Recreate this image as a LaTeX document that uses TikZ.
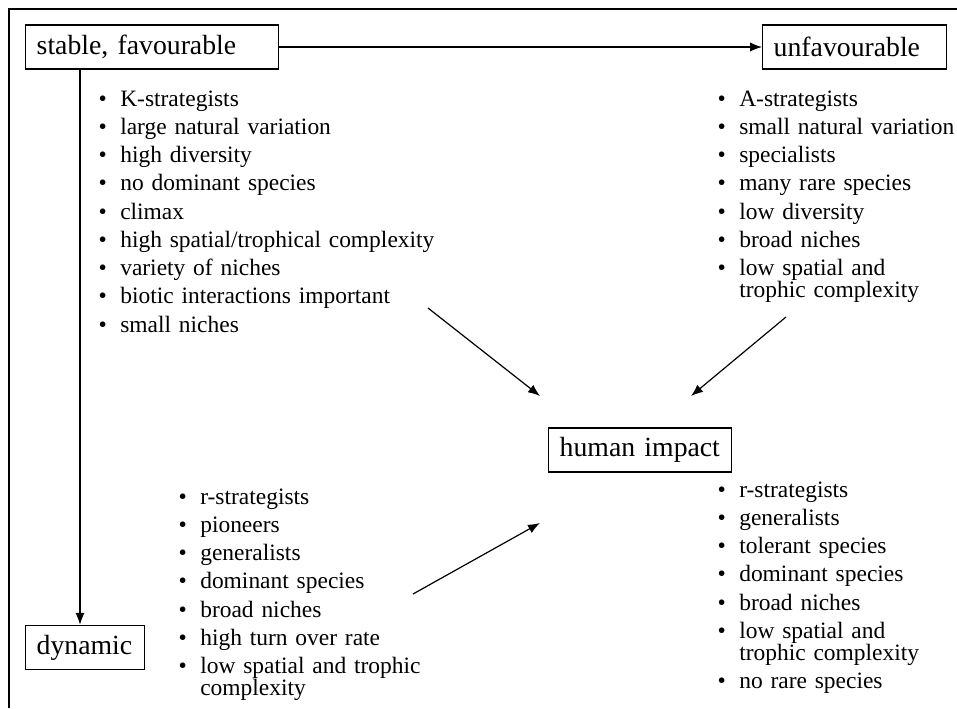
\documentclass[tikz,border=0pt]{standalone}
\usepackage{fontspec}
\setmainfont{Liberation Serif}
\usepackage{enumitem}
\usetikzlibrary{arrows.meta, positioning}

\setlist[itemize]{label=\textbullet, leftmargin=12.75pt, labelsep=10pt, topsep=0pt, partopsep=0pt, parsep=0pt, itemsep=4.7pt}

\tikzset{
    stagebox/.style={draw, line width=1.1pt, inner xsep=8.25pt, inner ysep=0pt, minimum height=33pt, anchor=west, align=left, font=\fontsize{20.8}{24}\selectfont},
    traitlist/.style={anchor=base west, inner sep=0pt, text width=300pt, font=\fontsize{17.6}{16.5}\selectfont},
    link/.style={-{Latex[length=9pt,width=7pt]}, line width=0.9pt},
}

\begin{document}
\begin{tikzpicture}[x=0.75pt, y=-0.75pt]

\useasboundingbox (0,0) rectangle (957,708);

% Frame (open to the right and bottom)
\draw[line width=1.1pt] (9,708) -- (9,9) -- (957,9);

% Stages
\node[stagebox, text width=173.25pt] (stable) at (25,47) {stable, favourable};
\node[stagebox, text width=121.5pt] (unfav) at (762,47) {unfavourable};
\node[stagebox, text width=120.75pt] (human) at (548,450) {human impact};
\node[stagebox, text width=72.75pt] (dynamic) at (25,647.5) {dynamic};

% Traits
\node[traitlist] (stablelist) at (103,84) {
    \begin{itemize}
        \item K-strategists
        \item large natural variation
        \item high diversity
        \item no dominant species
        \item climax
        \item high spatial/trophical complexity
        \item variety of niches
        \item biotic interactions important
        \item small niches
    \end{itemize}
};

\node[traitlist] (unflist) at (722,84) {
    \begin{itemize}
        \item A-strategists
        \item small natural variation
        \item specialists
        \item many rare species
        \item low diversity
        \item broad niches
        \item low spatial and\\ trophic complexity
    \end{itemize}
};

\node[traitlist] (dynlist) at (183,482) {
    \begin{itemize}
        \item r-strategists
        \item pioneers
        \item generalists
        \item dominant species
        \item broad niches
        \item high turn over rate
        \item low spatial and trophic\\ complexity
    \end{itemize}
};

\node[traitlist] (humlist) at (722,475) {
    \begin{itemize}
        \item r-strategists
        \item generalists
        \item tolerant species
        \item dominant species
        \item broad niches
        \item low spatial and\\ trophic complexity
        \item no rare species
    \end{itemize}
};

% Succession
\draw[link] (stable.east) -- (unfav.west);
\draw[link] ([xshift=41.25pt]stable.south west) -- ([xshift=41.25pt]dynamic.north west);

% Towards human impact
\coordinate (fromstable) at (428,308);
\coordinate (tostable) at (540,396);
\coordinate (fromunf) at (786,317);
\coordinate (tounf) at (691,396);
\coordinate (fromdyn) at (413,594);
\coordinate (todyn) at (540,523);
\draw[link] (fromstable) -- (tostable);
\draw[link] (fromunf) -- (tounf);
\draw[link] (fromdyn) -- (todyn);

\end{tikzpicture}
\end{document}
